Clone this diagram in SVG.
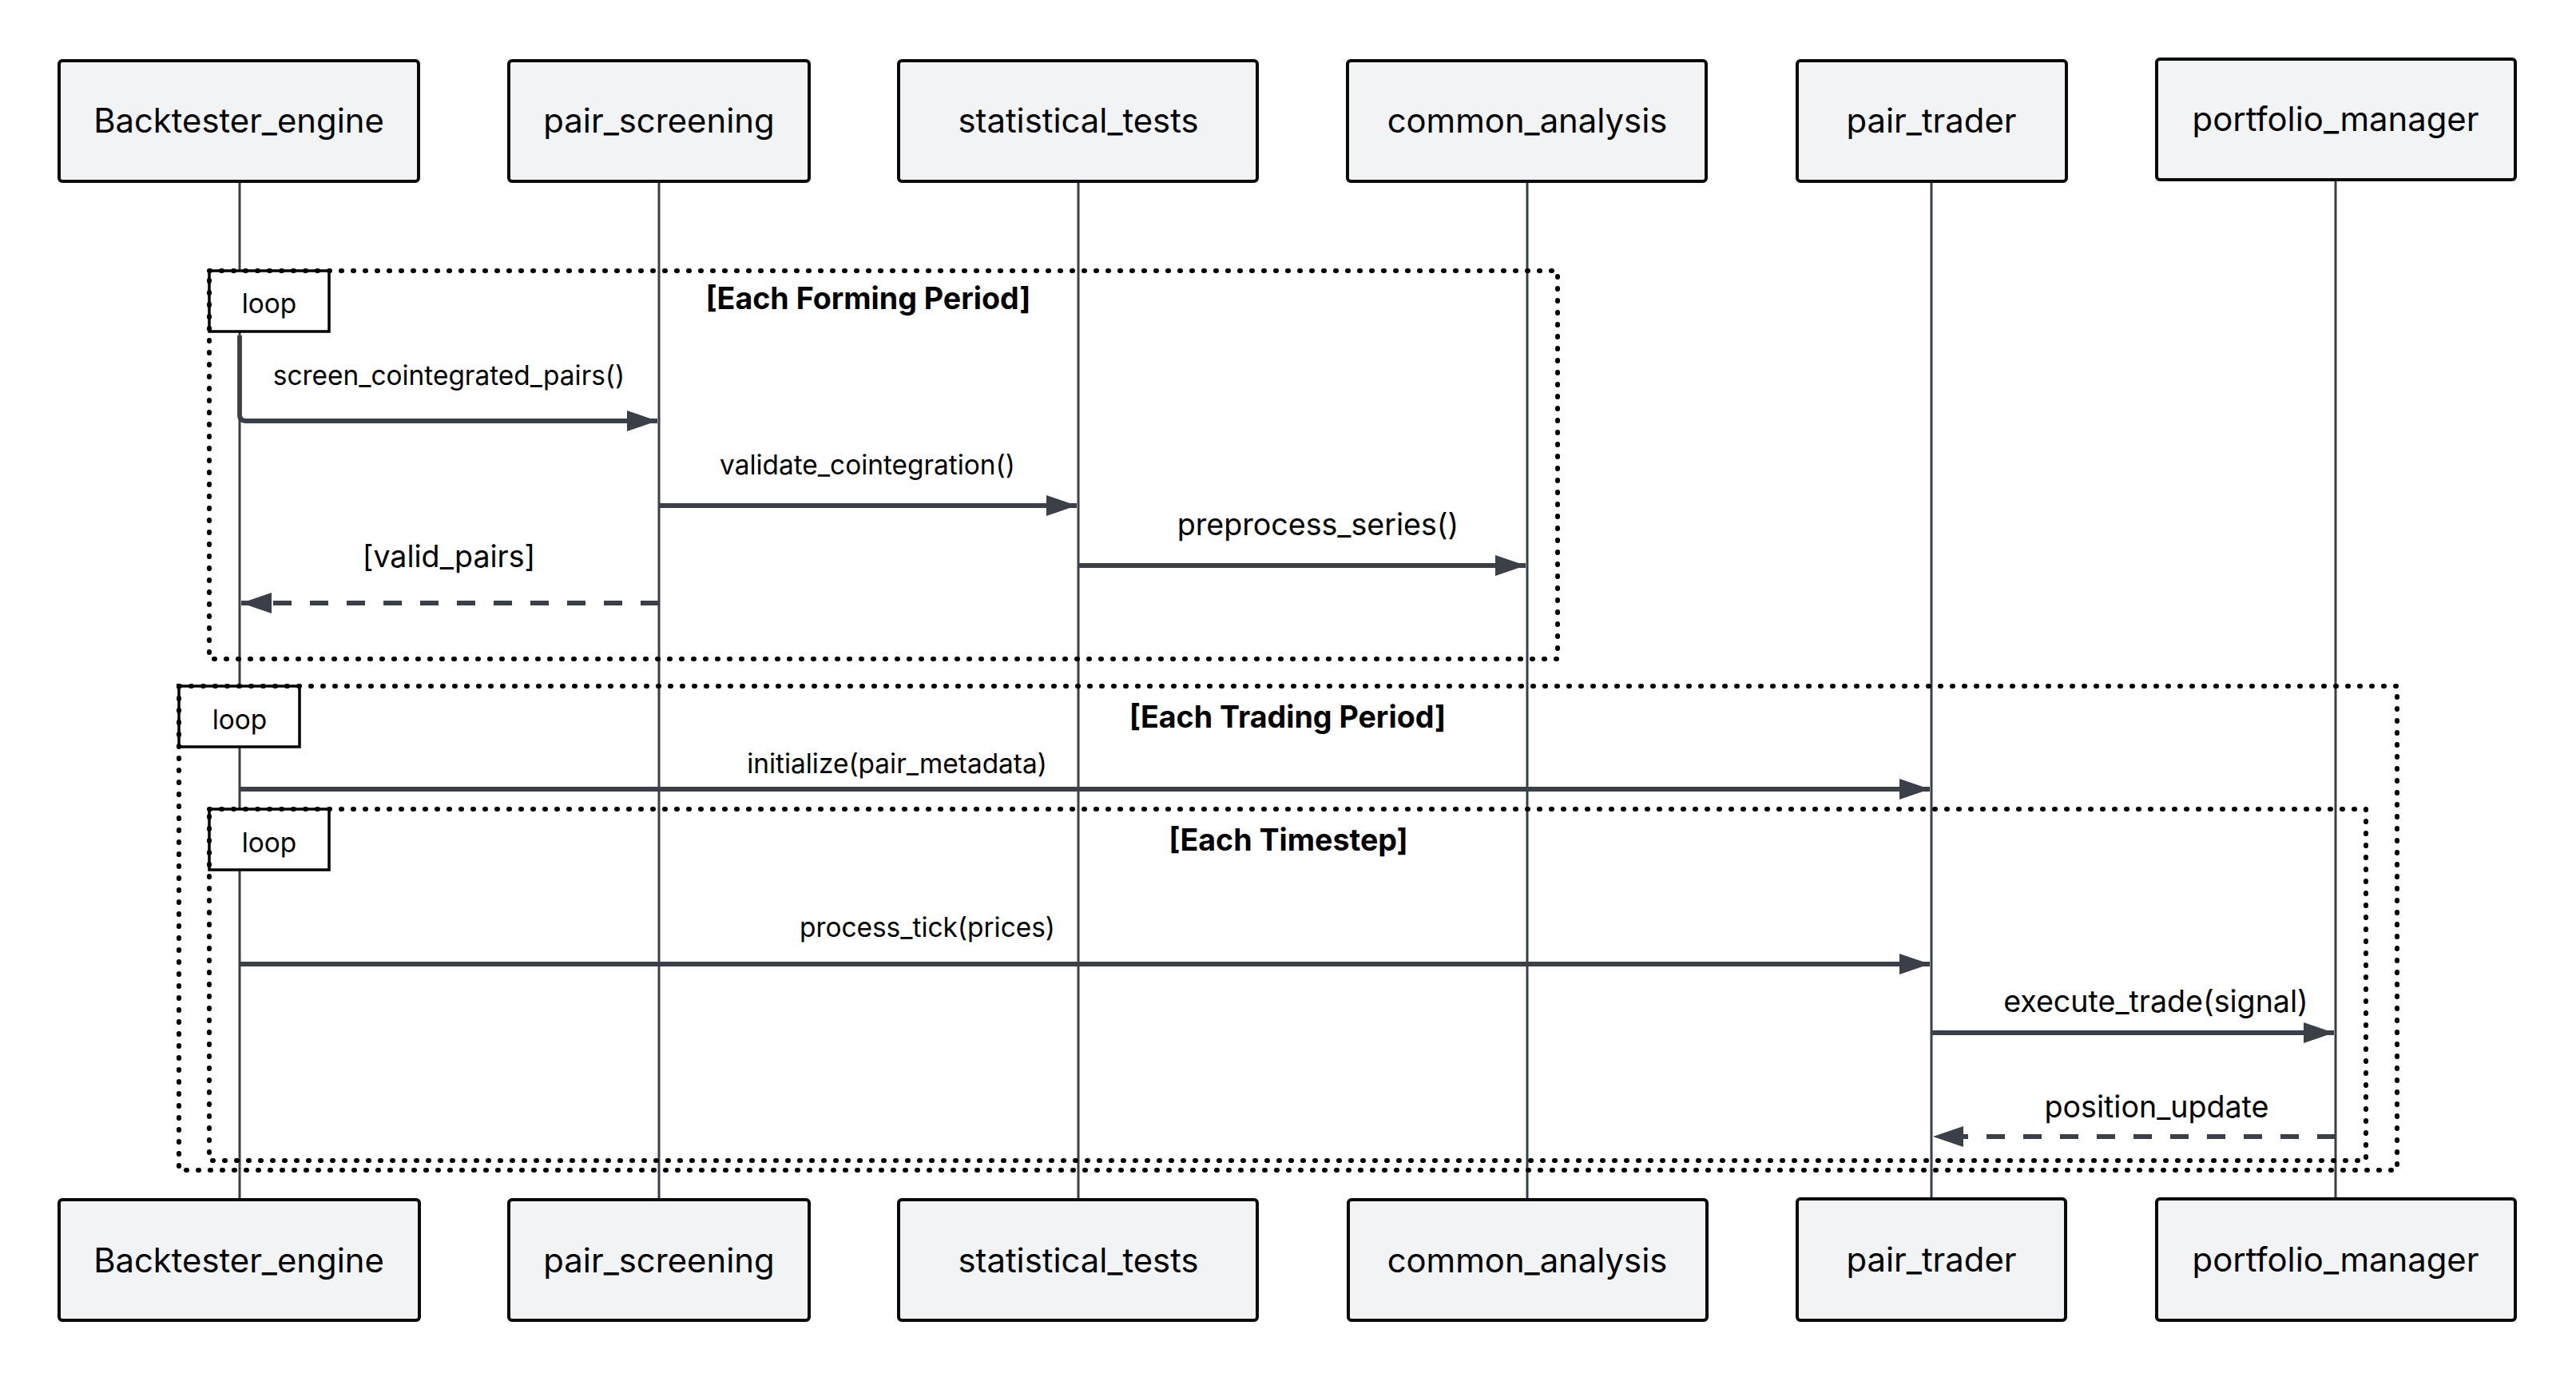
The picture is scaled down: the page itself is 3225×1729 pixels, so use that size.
<svg xmlns="http://www.w3.org/2000/svg" width="3225" height="1729" viewBox="0 0 3225 1729">
<defs>
<style>
.actor{fill:#f2f3f5;stroke:#0a0a0a;stroke-width:4}
.alabel{font-family:Inter,"Noto Sans","Liberation Sans",sans-serif;font-size:41.8px;fill:#000;text-anchor:middle}
.life{stroke:#3a3f48;stroke-width:3;fill:none}
.msg{stroke:#3b3f47;stroke-width:5.8;fill:none}
.dash{stroke-dasharray:23 23}
.mtext{font-family:Inter,"Noto Sans","Liberation Sans",sans-serif;fill:#000;text-anchor:middle}
.sm{font-size:33.4px}
.lg{font-size:37.6px}
.title{font-family:Inter,"Noto Sans","Liberation Sans",sans-serif;font-weight:700;font-size:37.6px;fill:#000;text-anchor:middle}
.loopbox{fill:none;stroke:#000;stroke-width:6;stroke-dasharray:1 14;stroke-linecap:round}
.looplabel{fill:#fff;stroke:#000;stroke-width:3.5}
</style>
<marker id="ah" markerUnits="userSpaceOnUse" markerWidth="38" markerHeight="26" refX="38" refY="13" orient="auto">
<path d="M0,0 L38,13 L0,26 Z" fill="#3b3f47"/>
</marker>
</defs>
<rect width="3225" height="1729" fill="#fff"/>

<g id="lifelines">
<line class="life" x1="300" y1="227" x2="300" y2="1502"/>
<line class="life" x1="825" y1="227" x2="825" y2="1502"/>
<line class="life" x1="1350" y1="227" x2="1350" y2="1502"/>
<line class="life" x1="1912" y1="227" x2="1912" y2="1502"/>
<line class="life" x1="2418" y1="227" x2="2418" y2="1502"/>
<line class="life" x1="2924" y1="225" x2="2924" y2="1501"/>
</g>

<g id="loop-forming">
<rect class="looplabel" x="262" y="339" width="150" height="76"/>
<rect class="loopbox" x="262" y="339" width="1688" height="486"/>
<text class="mtext sm" x="337" y="392">loop</text>
<text class="title" x="1087" y="387">[Each Forming Period]</text>
</g>

<g id="loop-trading">
<rect class="looplabel" x="224" y="859" width="151" height="76"/>
<rect class="loopbox" x="224" y="859" width="2777" height="606"/>
<text class="mtext sm" x="300" y="913">loop</text>
<text class="title" x="1612" y="911">[Each Trading Period]</text>
</g>

<g id="loop-timestep">
<rect class="looplabel" x="262" y="1013" width="150" height="76"/>
<rect class="loopbox" x="262" y="1013" width="2700" height="440"/>
<text class="mtext sm" x="337" y="1067">loop</text>
<text class="title" x="1613" y="1065">[Each Timestep]</text>
</g>

<g id="connectors">
<path class="msg" d="M300,420 V519 Q300,527 308,527 H823" marker-end="url(#ah)"/>
<text class="mtext sm" x="562" y="482">screen_cointegrated_pairs()</text>
<line class="msg" x1="825" y1="633" x2="1348" y2="633" marker-end="url(#ah)"/>
<text class="mtext sm" x="1086" y="594">validate_cointegration()</text>
<line class="msg" x1="1350" y1="708" x2="1910" y2="708" marker-end="url(#ah)"/>
<text class="mtext lg" x="1650" y="670">preprocess_series()</text>
<line class="msg dash" x1="825" y1="755" x2="302" y2="755" marker-end="url(#ah)"/>
<text class="mtext lg" x="562" y="710">[valid_pairs]</text>
<line class="msg" x1="300" y1="988" x2="2416" y2="988" marker-end="url(#ah)"/>
<text class="mtext sm" x="1123" y="968">initialize(pair_metadata)</text>
<line class="msg" x1="300" y1="1207" x2="2416" y2="1207" marker-end="url(#ah)"/>
<text class="mtext sm" x="1161" y="1173">process_tick(prices)</text>
<line class="msg" x1="2418" y1="1293" x2="2922" y2="1293" marker-end="url(#ah)"/>
<text class="mtext lg" x="2699" y="1267">execute_trade(signal)</text>
<line class="msg dash" x1="2924" y1="1423" x2="2420" y2="1423" marker-end="url(#ah)"/>
<text class="mtext lg" x="2700" y="1399">position_update</text>
</g>

<g id="actor-backtester">
<rect class="actor" x="74" y="76" width="450" height="151" rx="4"/>
<text class="alabel" x="299" y="166">Backtester_engine</text>
<rect class="actor" x="74" y="1502" width="451" height="151" rx="4"/>
<text class="alabel" x="299" y="1593">Backtester_engine</text>
</g>
<g id="actor-pair-screening">
<rect class="actor" x="637" y="76" width="376" height="151" rx="4"/>
<text class="alabel" x="825" y="166">pair_screening</text>
<rect class="actor" x="637" y="1502" width="376" height="151" rx="4"/>
<text class="alabel" x="825" y="1593">pair_screening</text>
</g>
<g id="actor-statistical-tests">
<rect class="actor" x="1125" y="76" width="449" height="151" rx="4"/>
<text class="alabel" x="1350" y="166">statistical_tests</text>
<rect class="actor" x="1125" y="1502" width="449" height="151" rx="4"/>
<text class="alabel" x="1350" y="1593">statistical_tests</text>
</g>
<g id="actor-common-analysis">
<rect class="actor" x="1687" y="76" width="449" height="151" rx="4"/>
<text class="alabel" x="1912" y="166">common_analysis</text>
<rect class="actor" x="1688" y="1502" width="449" height="151" rx="4"/>
<text class="alabel" x="1912" y="1593">common_analysis</text>
</g>
<g id="actor-pair-trader">
<rect class="actor" x="2250" y="76" width="337" height="151" rx="4"/>
<text class="alabel" x="2418" y="166">pair_trader</text>
<rect class="actor" x="2250" y="1501" width="336" height="152" rx="4"/>
<text class="alabel" x="2418" y="1592">pair_trader</text>
</g>
<g id="actor-portfolio-manager">
<rect class="actor" x="2700" y="74" width="449" height="151" rx="4"/>
<text class="alabel" x="2924" y="164">portfolio_manager</text>
<rect class="actor" x="2700" y="1501" width="449" height="152" rx="4"/>
<text class="alabel" x="2924" y="1592">portfolio_manager</text>
</g>
</svg>
